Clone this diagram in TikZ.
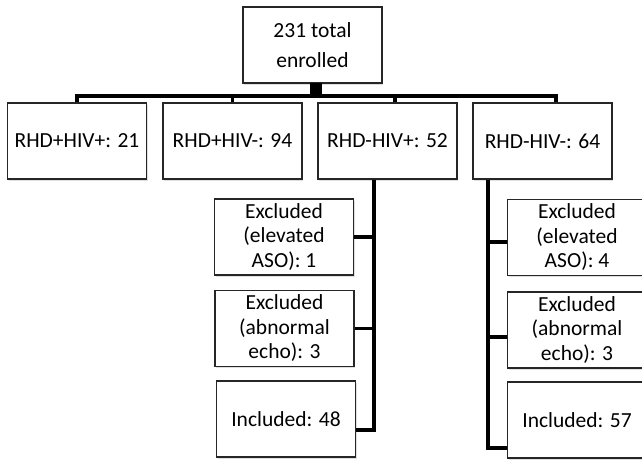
\documentclass[tikz,border=0pt]{standalone}
\usepackage{fontspec}
\setmainfont{Carlito}
\usetikzlibrary{positioning,calc,shadows}

\begin{document}
\begin{tikzpicture}[x=1pt, y=-1pt, align=center, font=\fontsize{21.5}{24.5}\selectfont,
  box/.style={draw=black!85, line width=1.2pt, fill=white, minimum width=139pt, minimum height=76pt, inner sep=2pt,
    drop shadow={opacity=0.25, shadow xshift=1pt, shadow yshift=-1.5pt}},
  bus/.style={line width=3.5pt}]
\useasboundingbox (0,0) rectangle (642,459);
\clip (0,0) rectangle (642,459);

\node (total) [box, font=\fontsize{21.5}{30}\selectfont] at (312.5,45) {231 total\\enrolled};
\node (hub) [fill=black, minimum size=12pt, inner sep=0pt] at (316,89) {};

\node (r1) [box] at (77,141) {RHD+HIV+: 21};
\node (r2) [box] at (232.5,141) {RHD+HIV-: 94};
\node (r3) [box] at (387.5,141) {RHD-HIV+: 52};
\node (r4) [box] at (542.5,141) {RHD-HIV-: 64};

\coordinate (bar) at (0,96);
\draw[bus] (r1.north) |- ([xshift=13.5pt]r4.north |- bar) -- ([xshift=13.5pt]r4.north);
\draw[bus] (r2.north) -- (r2.north |- bar);
\draw[bus] ([xshift=7.5pt]r3.north) -- ([xshift=7.5pt]r3.north |- bar);

% -------------------------------

\node (a1) [box] at (284,237) {Excluded\\(elevated\\ASO): 1};
\node (a2) [box] at (284.5,328.5) {Excluded\\(abnormal\\echo): 3};
\node (a3) [box] at (286,419) {Included: 48};

\coordinate (lv) at ([xshift=-13.5pt]r3.south);
\draw[bus] (lv) |- ([yshift=-11pt]a3.east);
\draw[bus] (a1.east) -- (a1.east -| lv);
\draw[bus] (a2.east) -- (a2.east -| lv);

% -------------------------------

\node (b1) [box] at (577,237.5) {Excluded\\(elevated\\ASO): 4};
\node (b2) [box] at (577,330) {Excluded\\(abnormal\\echo): 3};
\node (b3) [box] at (577,420) {Included: 57};

\coordinate (rv) at ([xshift=-54.5pt]r4.south);
\draw[bus] (rv) |- ([yshift=-28pt]b3.west);
\draw[bus] ([yshift=-4.5pt]b1.west) -- ([yshift=-4.5pt]b1.west -| rv);
\draw[bus] ([yshift=-7pt]b2.west) -- ([yshift=-7pt]b2.west -| rv);
\end{tikzpicture}
\end{document}
